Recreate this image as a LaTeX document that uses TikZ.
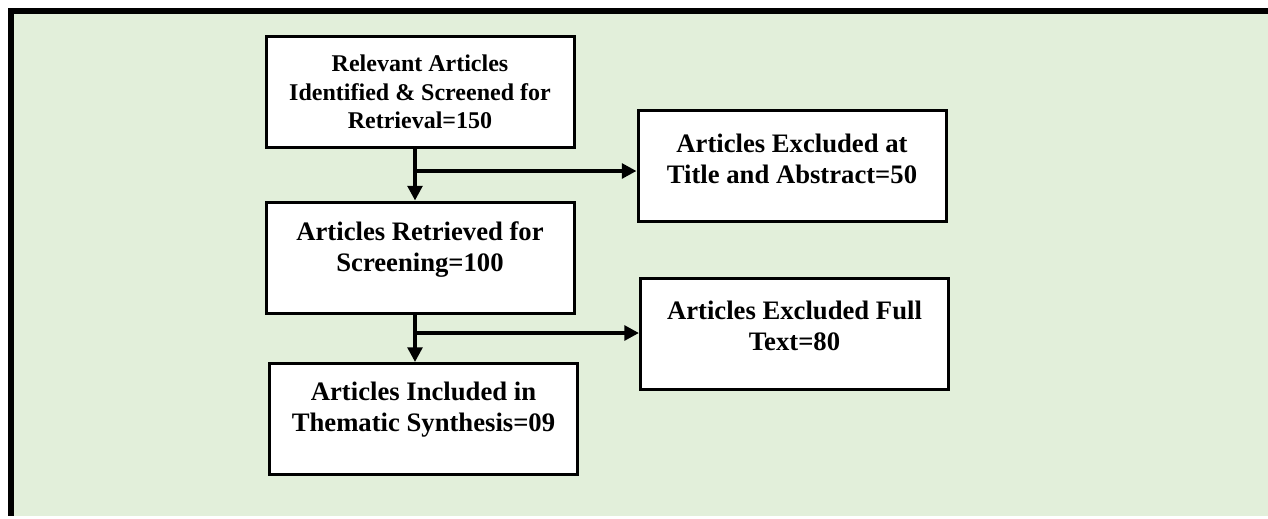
\documentclass[tikz,border=0pt]{standalone}
\usepackage{fontspec}
\setmainfont{Liberation Serif}
\usetikzlibrary{arrows.meta}
\definecolor{bggreen}{RGB}{226,239,218}
\tikzset{
  box/.style={draw=black, fill=white, line width=2.25pt, minimum width=231pt, minimum height=83.25pt, inner sep=0pt},
  txt/.style={align=center, font=\bfseries\fontsize{20}{23.3}\selectfont, inner sep=0pt},
  txtsmall/.style={align=center, font=\bfseries\fontsize{18}{21.4}\selectfont, inner sep=0pt},
  arr/.style={line width=2.6pt, -{Triangle[length=11pt,width=11pt]}},
  frame/.style={line width=4.5pt, draw=black}
}
\begin{document}
\begin{tikzpicture}[x=0.75pt,y=-0.75pt]
\useasboundingbox (0,0) rectangle (1268,518);
% background panel
\fill[bggreen] (14,14) rectangle (1268,516);
\draw[frame] (11,8) -- (11,516);
\draw[frame] (8,11) -- (1268,11);
% boxes
\node[box] (b1) at (420,91.5) {};
\node[box] (b2) at (420,257.5) {};
\node[box] (b3) at (792,165.5) {};
\node[box] (b4) at (794.5,334) {};
\node[box] (b5) at (423.5,419) {};
% texts
\node[txtsmall] (t1) at (420,92) {Relevant Articles\\Identified \& Screened for\\Retrieval=150};
\node[txt] (t2) at (420,250) {Articles Retrieved for\\Screening=100};
\node[txt] (t3) at (792,158.5) {Articles Excluded at\\Title and Abstract=50};
\node[txt] (t4) at (794.5,326) {Articles Excluded Full\\Text=80};
\node[txt] (t5) at (423.5,410) {Articles Included in\\Thematic Synthesis=09};
% junctions
\coordinate (j1) at (415,171);
\coordinate (j2) at (415,333);
% connectors
\draw[arr] (b1.south -| j1) -- (b2.north -| j1);
\draw[arr, line width=3pt] (j1) -- (b3.west |- j1);
\draw[arr] (b2.south -| j2) -- (b5.north -| j2);
\draw[arr, line width=3pt] (j2) -- (b4.west |- j2);
\end{tikzpicture}
\end{document}
